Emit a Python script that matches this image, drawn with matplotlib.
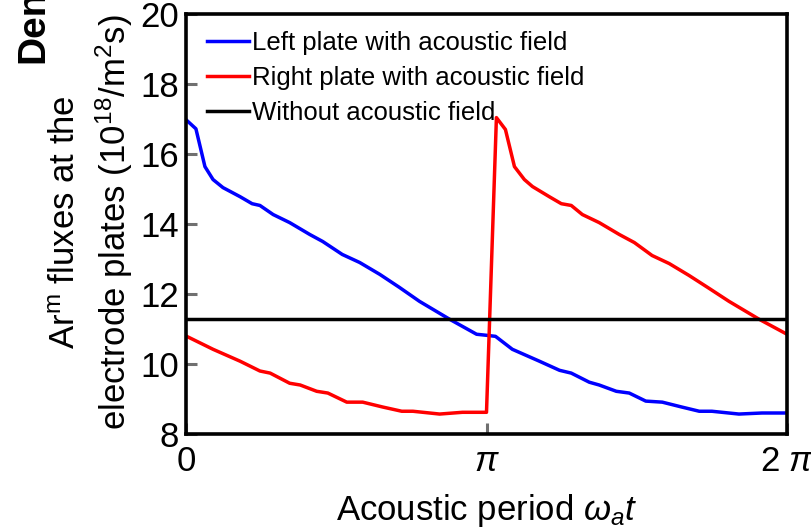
import numpy as np
import matplotlib
matplotlib.use("Agg")
import matplotlib.pyplot as plt

plt.rcParams['font.family'] = ['Liberation Sans', 'DejaVu Sans']
plt.rcParams['mathtext.fontset'] = 'custom'
plt.rcParams['mathtext.rm'] = 'Liberation Sans'
plt.rcParams['mathtext.it'] = 'Liberation Sans:italic'
plt.rcParams['mathtext.bf'] = 'Liberation Sans:bold'

# x in units of pi
left_x = [0, 0.033, 0.063, 0.09, 0.123, 0.18, 0.22, 0.246, 0.29, 0.345, 0.412, 0.455,
          0.52, 0.578, 0.645, 0.71, 0.777, 0.877, 0.967, 1.0, 1.03, 1.086, 1.176, 1.243,
          1.282, 1.342, 1.375, 1.432, 1.475, 1.53, 1.585, 1.65, 1.708, 1.75, 1.84, 1.917, 2.0]
left_y = [16.98, 16.72, 15.64, 15.27, 15.04, 14.78, 14.58, 14.53, 14.27, 14.04, 13.70, 13.50,
          13.13, 12.90, 12.56, 12.19, 11.79, 11.28, 10.85, 10.82, 10.79, 10.42, 10.08, 9.82,
          9.74, 9.48, 9.40, 9.22, 9.17, 8.94, 8.91, 8.77, 8.65, 8.65, 8.57, 8.60, 8.60]

right_x = [0, 0.09, 0.18, 0.246, 0.28, 0.345, 0.38, 0.435, 0.472, 0.535, 0.588, 0.655,
           0.718, 0.755, 0.844, 0.92, 1.0, 1.033, 1.063, 1.093, 1.126, 1.153, 1.209, 1.249,
           1.282, 1.319, 1.375, 1.442, 1.492, 1.551, 1.608, 1.674, 1.741, 1.807, 1.907, 2.0]
right_y = [10.80, 10.42, 10.08, 9.80, 9.74, 9.45, 9.40, 9.22, 9.17, 8.91, 8.91, 8.77,
           8.65, 8.65, 8.57, 8.62, 8.62, 17.04, 16.70, 15.64, 15.27, 15.07, 14.78, 14.58,
           14.53, 14.27, 14.04, 13.70, 13.47, 13.10, 12.87, 12.53, 12.16, 11.79, 11.28, 10.85]

baseline_value = 11.28

labels = ["Left plate with acoustic field", "Right plate with acoustic field",
          "Without acoustic field"]
xtick_vals = [0, 1, 2]
xtick_labels = ["0", r"$\pi$", r"2 $\pi$"]
ytick_vals = [8, 10, 12, 14, 16, 18, 20]

fig = plt.figure(figsize=(8.11, 5.27), dpi=100)
ax = fig.add_axes([186/811, (527-434)/527, (787-186)/811, (434-14)/527])

lx = np.array(left_x) * np.pi
rx = np.array(right_x) * np.pi
ax.plot(lx, left_y, color='#0000ff', lw=2.5, label=labels[0])
ax.plot(rx, right_y, color='#ff0000', lw=2.5, label=labels[1])
ax.axhline(baseline_value, color='black', lw=2.5, label=labels[2])

ax.set_xlim(0, 2*np.pi)
ax.set_ylim(8, 20)
ax.set_xticks(np.array(xtick_vals) * np.pi)
ax.set_xticklabels(xtick_labels)
ax.set_yticks(ytick_vals)
ax.tick_params(direction='in', length=8, width=2.2, color='#707070', labelsize=25,
               top=False, right=False)
ax.tick_params(axis='x', pad=8)
ax.tick_params(axis='y', pad=5)
for s in ax.spines.values():
    s.set_linewidth(2.6)
    s.set_color('black')

ax.set_xlabel(r"Acoustic period $\omega_{a}t$", fontsize=25, labelpad=10)

fig.text(75/811, (527-222)/527, r"Ar$^{\mathrm{m}}$ fluxes at the", fontsize=25,
         rotation=90, rotation_mode='anchor', ha='center', va='baseline')
fig.text(126/811, (527-222)/527, r"electrode plates (10$^{18}$/m$^{2}$s)", fontsize=25,
         rotation=90, rotation_mode='anchor', ha='center', va='baseline')
fig.text(43/811, (527-63)/527, "Density", fontsize=28, fontweight='bold',
         rotation=90, rotation_mode='anchor', ha='left', va='baseline')

leg = ax.legend(loc='upper left', bbox_to_anchor=(21/601, 1 - 17/420), frameon=False,
                fontsize=18.5, handlelength=1.65, handletextpad=0.12, labelspacing=0.42,
                borderaxespad=0, borderpad=0)

fig.savefig("out.png", dpi=100)
